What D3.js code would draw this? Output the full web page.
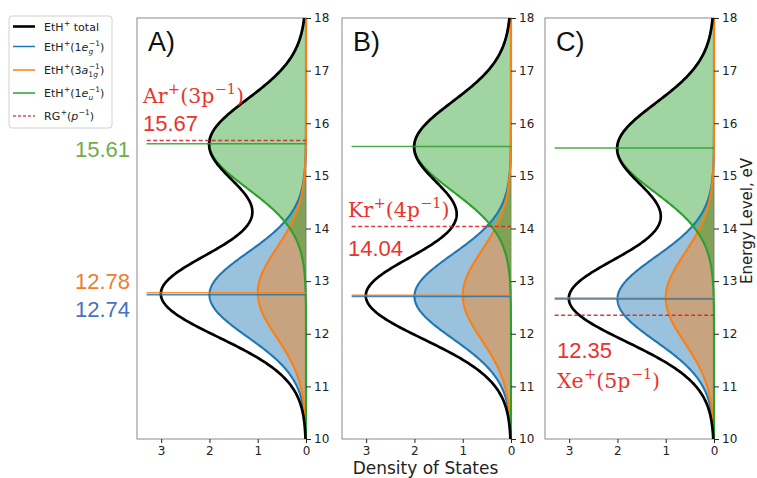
<!DOCTYPE html>
<html><head><meta charset="utf-8">
<script src="https://cdn.jsdelivr.net/npm/d3@7"></script>
<style>body{margin:0;background:#fff} text{white-space:pre}</style>
</head><body>
<svg id="c" width="757" height="478"></svg>
<script>
// ---- data ----
const panelNames = ["A)", "B)", "C)"];
const egPeak  = [12.74, 12.71, 12.66];   // EtH+ (1e_g^-1)
const a1gPeak = [12.78, 12.73, 12.68];   // EtH+ (3a_1g^-1)
const euPeak  = [15.61, 15.56, 15.53];   // EtH+ (1e_u^-1)
const rgLevel = [15.67, 14.04, 12.35];   // RG+ (p^-1)
const rgAtom  = ["Ar", "Kr", "Xe"];
const rgShell = ["3p", "4p", "5p"];
const degeneracy = {eg: 2, a1g: 1, eu: 2};
const broadening = {eg: 0.80, a1g: 0.85, eu: 0.85};
const xTicks = [3, 2, 1, 0];
const yTicks = [10, 11, 12, 13, 14, 15, 16, 17, 18];
const leftLabels = [{v: "15.61", c: "#70ad47"}, {v: "12.78", c: "#ed7d31"}, {v: "12.74", c: "#4472c4"}];

// ---- layout ----
const svg = d3.select("#c");
const panelLeft = [137, 342, 545], panelW = 169, pTop = 18, pBottom = 439;
const C = {blue: "#1f77b4", orange: "#ff7f0e", green: "#2ca02c", red: "#d62728"};
const y = d3.scaleLinear().domain([10, 18]).range([pBottom, pTop]);
const energies = d3.range(10, 18.0001, 0.02);
const gauss = (E, c, s, a) => a * Math.exp(-((E - c) ** 2) / (2 * s * s));

function mathText(g, x, yy, parts, o) {
  const fs = o.size, fam = o.family, col = o.color || "#222";
  const ss = fs * (o.scriptScale || 0.7);
  let cx = x;
  const mk = (t, px, py, size, it) => {
    const el = g.append("text").attr("x", px).attr("y", py).text(t)
      .style("font-family", fam).style("font-size", size + "px").attr("fill", col);
    if (it) el.style("font-style", "italic");
    return el.node().getComputedTextLength();
  };
  parts.forEach(p => {
    if (p.b !== undefined) cx += mk(p.b, cx, yy, fs, p.it);
    else {
      let w1 = 0, w2 = 0;
      if (p.sup !== undefined) w1 = mk(p.sup, cx + 0.5, yy - fs * 0.42, ss, false);
      if (p.sub !== undefined) {
        let sx = cx;
        p.sub.forEach(q => { sx += mk(q.t, sx, yy + fs * 0.3, ss, q.it); });
        w2 = sx - cx;
      }
      cx += Math.max(w1 + 0.5, w2);
    }
  });
  return cx - x;
}

panelNames.forEach((name, i) => {
  const x = d3.scaleLinear().domain([3.5, 0]).range([panelLeft[i], panelLeft[i] + panelW]);
  const g = svg.append("g");
  const clipId = "clip" + i;
  svg.append("clipPath").attr("id", clipId).append("rect")
    .attr("x", panelLeft[i]).attr("y", pTop).attr("width", panelW + 2).attr("height", pBottom - pTop);

  const comp = [
    {key: "eg", c: egPeak[i], col: C.blue},
    {key: "a1g", c: a1gPeak[i], col: C.orange},
    {key: "eu", c: euPeak[i], col: C.green}
  ];
  const series = comp.map(d => energies.map(E => ({E, v: gauss(E, d.c, broadening[d.key], degeneracy[d.key])})));
  const total = energies.map((E, j) => ({E, v: series[0][j].v + series[1][j].v + series[2][j].v}));

  const area = d3.area().y(d => y(d.E)).x0(x(0)).x1(d => x(d.v));
  const line = d3.line().y(d => y(d.E)).x(d => x(d.v));

  g.append("rect").attr("x", panelLeft[i]).attr("y", pTop).attr("width", panelW).attr("height", pBottom - pTop)
    .attr("fill", "none").attr("stroke", "#8a8a8a").attr("stroke-width", 1);

  const pg = g.append("g").attr("clip-path", `url(#${clipId})`);
  comp.forEach((d, k) => pg.append("path").datum(series[k]).attr("d", area)
    .attr("fill", d.col).attr("fill-opacity", 0.45));
  comp.forEach((d, k) => pg.append("path").datum(series[k]).attr("d", line)
    .attr("fill", "none").attr("stroke", d.col).attr("stroke-width", 2.1));
  pg.append("path").datum(total).attr("d", line).attr("fill", "none").attr("stroke", "#000").attr("stroke-width", 2.7);

  const lineX0 = x(3.3), lineX1 = x(0);
  [{v: euPeak[i], col: C.green}, {v: a1gPeak[i], col: C.orange}, {v: egPeak[i], col: C.blue}].forEach(d => {
    g.append("line").attr("x1", lineX0).attr("x2", lineX1).attr("y1", y(d.v)).attr("y2", y(d.v))
      .attr("stroke", d.col).attr("stroke-width", 1.5).attr("opacity", 0.85);
  });
  g.append("line").attr("x1", lineX0).attr("x2", lineX1).attr("y1", y(rgLevel[i])).attr("y2", y(rgLevel[i]))
    .attr("stroke", C.red).attr("stroke-width", 1.5).attr("stroke-dasharray", "4,2.5").attr("opacity", 0.9);

  const ay = g.append("g").attr("transform", `translate(${panelLeft[i] + panelW},0)`)
    .call(d3.axisRight(y).tickValues(yTicks).tickSize(5).tickPadding(3).tickFormat(d3.format("d")));
  ay.select(".domain").remove();
  ay.selectAll("text").style("font-family", "DejaVu Sans").style("font-size", "12px").attr("fill", "#222");
  ay.selectAll("line").attr("stroke", "#222");
  const ax = g.append("g").attr("transform", `translate(0,${pBottom})`)
    .call(d3.axisBottom(x).tickValues(xTicks).tickSize(4).tickPadding(3).tickFormat(d3.format("d")));
  ax.select(".domain").remove();
  ax.selectAll("text").style("font-family", "DejaVu Sans").style("font-size", "12px").attr("fill", "#222");
  ax.selectAll("line").attr("stroke", "#222");

  g.append("text").attr("x", panelLeft[i] + 11).attr("y", 51).text(name)
    .style("font-family", "Liberation Sans").style("font-size", "27px").attr("fill", "#111");

  const red = "#e8342b";
  const lblParts = [{b: rgAtom[i]}, {sup: "+"}, {b: "(" + rgShell[i]}, {sup: "−1"}, {b: ")"}];
  const numTxt = d3.format(".2f")(rgLevel[i]);
  const tx = panelLeft[i] + (i === 2 ? 12 : 6);
  let labY, numY;
  if (i === 0) { labY = 103; numY = 131; }
  else if (i === 1) { labY = 217; numY = 256; }
  else { labY = 388; numY = 358; }
  mathText(g, tx, labY, lblParts, {size: 20.5, family: "DejaVu Serif", color: red});
  g.append("text").attr("x", tx).attr("y", numY).text(numTxt)
    .style("font-family", "Liberation Sans").style("font-size", "22px").attr("fill", red);
});

[[leftLabels[0], 157], [leftLabels[1], 289], [leftLabels[2], 317]].forEach(([d, yy]) => {
  svg.append("text").attr("x", 130).attr("y", yy).attr("text-anchor", "end").text(d.v)
    .style("font-family", "Liberation Sans").style("font-size", "22px").attr("fill", d.c);
});

svg.append("text").attr("x", 425.5).attr("y", 474).attr("text-anchor", "middle").text("Density of States")
  .style("font-family", "DejaVu Sans").style("font-size", "17px").attr("fill", "#222");
svg.append("text").attr("transform", "translate(752,221) rotate(-90)").attr("text-anchor", "middle")
  .text("Energy Level, eV").style("font-family", "DejaVu Sans").style("font-size", "15px").attr("fill", "#222");

const lg = svg.append("g");
lg.append("rect").attr("x", 9).attr("y", 16).attr("width", 103).attr("height", 112).attr("rx", 3)
  .attr("fill", "#fff").attr("stroke", "#d0d0d0");
const legendRows = [
  {y: 26.5, col: "#000", w: 2.6, dash: null, parts: [{b: "EtH"}, {sup: "+"}, {b: "\u00a0total"}]},
  {y: 46.5, col: C.blue, w: 1.5, dash: null, parts: [{b: "EtH"}, {sup: "+"}, {b: "(1"}, {b: "e", it: true}, {sup: "−1", sub: [{t: "g", it: true}]}, {b: ")"}]},
  {y: 70, col: C.orange, w: 1.5, dash: null, parts: [{b: "EtH"}, {sup: "+"}, {b: "(3"}, {b: "a", it: true}, {sup: "−1", sub: [{t: "1"}, {t: "g", it: true}]}, {b: ")"}]},
  {y: 93, col: C.green, w: 1.5, dash: null, parts: [{b: "EtH"}, {sup: "+"}, {b: "(1"}, {b: "e", it: true}, {sup: "−1", sub: [{t: "u", it: true}]}, {b: ")"}]},
  {y: 116, col: C.red, w: 1.5, dash: "3,2", parts: [{b: "RG"}, {sup: "+"}, {b: "("}, {b: "p", it: true}, {sup: "−1"}, {b: ")"}]}
];
legendRows.forEach(r => {
  lg.append("line").attr("x1", 13).attr("x2", 35).attr("y1", r.y).attr("y2", r.y)
    .attr("stroke", r.col).attr("stroke-width", r.w).attr("stroke-dasharray", r.dash).attr("opacity", r.dash ? 0.8 : 1);
  mathText(lg, 44, r.y + 4, r.parts, {size: 11, family: "DejaVu Sans", color: "#222", scriptScale: 0.68});
});
</script>
</body></html>
